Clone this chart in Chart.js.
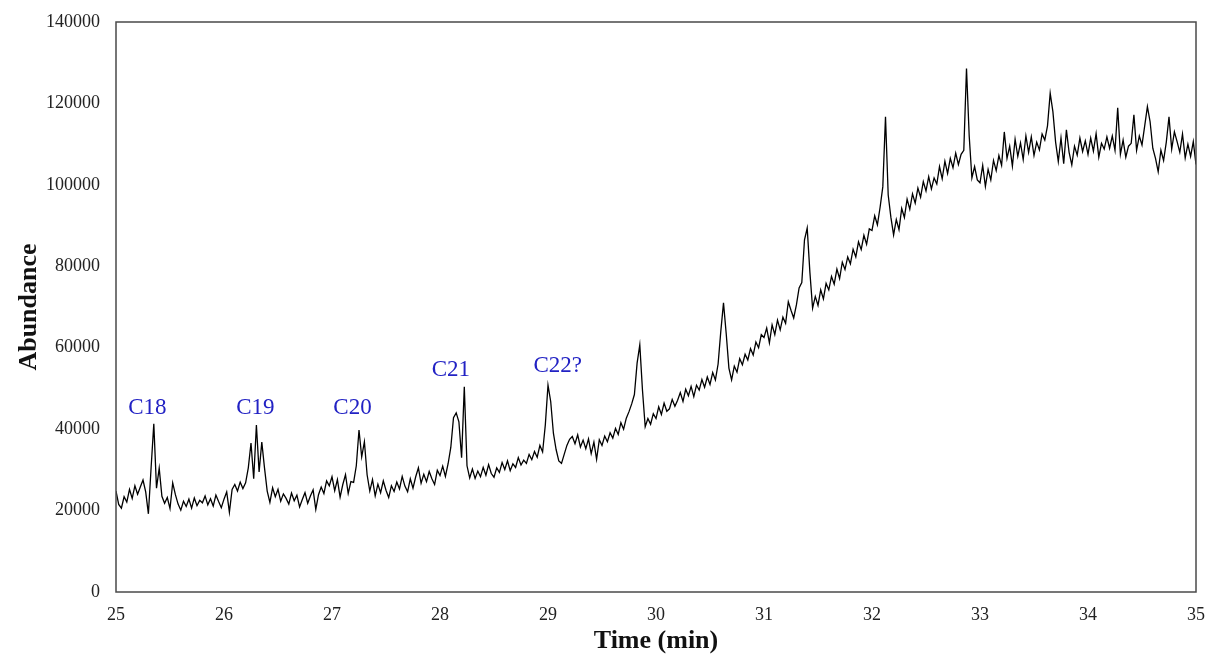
<!DOCTYPE html>
<html>
<head>
<meta charset="utf-8">
<title>Chromatogram 25-35 min</title>
<script src="https://cdn.jsdelivr.net/npm/chart.js@4.4.1/dist/chart.umd.min.js"></script>
<style>
  html, body { margin: 0; padding: 0; background: #ffffff; }
  #wrap { width: 1208px; height: 660px; }
</style>
</head>
<body>
<div id="wrap"><canvas id="gcChart"></canvas></div>
<script>
// Retention time (min), one scan every 0.025 min
const times = [
  25.000, 25.025, 25.050, 25.075, 25.100, 25.125, 25.150, 25.175,
  25.200, 25.225, 25.250, 25.275, 25.300, 25.325, 25.350, 25.375,
  25.400, 25.425, 25.450, 25.475, 25.500, 25.525, 25.550, 25.575,
  25.600, 25.625, 25.650, 25.675, 25.700, 25.725, 25.750, 25.775,
  25.800, 25.825, 25.850, 25.875, 25.900, 25.925, 25.950, 25.975,
  26.000, 26.025, 26.050, 26.075, 26.100, 26.125, 26.150, 26.175,
  26.200, 26.225, 26.250, 26.275, 26.300, 26.325, 26.350, 26.375,
  26.400, 26.425, 26.450, 26.475, 26.500, 26.525, 26.550, 26.575,
  26.600, 26.625, 26.650, 26.675, 26.700, 26.725, 26.750, 26.775,
  26.800, 26.825, 26.850, 26.875, 26.900, 26.925, 26.950, 26.975,
  27.000, 27.025, 27.050, 27.075, 27.100, 27.125, 27.150, 27.175,
  27.200, 27.225, 27.250, 27.275, 27.300, 27.325, 27.350, 27.375,
  27.400, 27.425, 27.450, 27.475, 27.500, 27.525, 27.550, 27.575,
  27.600, 27.625, 27.650, 27.675, 27.700, 27.725, 27.750, 27.775,
  27.800, 27.825, 27.850, 27.875, 27.900, 27.925, 27.950, 27.975,
  28.000, 28.025, 28.050, 28.075, 28.100, 28.125, 28.150, 28.175,
  28.200, 28.225, 28.250, 28.275, 28.300, 28.325, 28.350, 28.375,
  28.400, 28.425, 28.450, 28.475, 28.500, 28.525, 28.550, 28.575,
  28.600, 28.625, 28.650, 28.675, 28.700, 28.725, 28.750, 28.775,
  28.800, 28.825, 28.850, 28.875, 28.900, 28.925, 28.950, 28.975,
  29.000, 29.025, 29.050, 29.075, 29.100, 29.125, 29.150, 29.175,
  29.200, 29.225, 29.250, 29.275, 29.300, 29.325, 29.350, 29.375,
  29.400, 29.425, 29.450, 29.475, 29.500, 29.525, 29.550, 29.575,
  29.600, 29.625, 29.650, 29.675, 29.700, 29.725, 29.750, 29.775,
  29.800, 29.825, 29.850, 29.875, 29.900, 29.925, 29.950, 29.975,
  30.000, 30.025, 30.050, 30.075, 30.100, 30.125, 30.150, 30.175,
  30.200, 30.225, 30.250, 30.275, 30.300, 30.325, 30.350, 30.375,
  30.400, 30.425, 30.450, 30.475, 30.500, 30.525, 30.550, 30.575,
  30.600, 30.625, 30.650, 30.675, 30.700, 30.725, 30.750, 30.775,
  30.800, 30.825, 30.850, 30.875, 30.900, 30.925, 30.950, 30.975,
  31.000, 31.025, 31.050, 31.075, 31.100, 31.125, 31.150, 31.175,
  31.200, 31.225, 31.250, 31.275, 31.300, 31.325, 31.350, 31.375,
  31.400, 31.425, 31.450, 31.475, 31.500, 31.525, 31.550, 31.575,
  31.600, 31.625, 31.650, 31.675, 31.700, 31.725, 31.750, 31.775,
  31.800, 31.825, 31.850, 31.875, 31.900, 31.925, 31.950, 31.975,
  32.000, 32.025, 32.050, 32.075, 32.100, 32.125, 32.150, 32.175,
  32.200, 32.225, 32.250, 32.275, 32.300, 32.325, 32.350, 32.375,
  32.400, 32.425, 32.450, 32.475, 32.500, 32.525, 32.550, 32.575,
  32.600, 32.625, 32.650, 32.675, 32.700, 32.725, 32.750, 32.775,
  32.800, 32.825, 32.850, 32.875, 32.900, 32.925, 32.950, 32.975,
  33.000, 33.025, 33.050, 33.075, 33.100, 33.125, 33.150, 33.175,
  33.200, 33.225, 33.250, 33.275, 33.300, 33.325, 33.350, 33.375,
  33.400, 33.425, 33.450, 33.475, 33.500, 33.525, 33.550, 33.575,
  33.600, 33.625, 33.650, 33.675, 33.700, 33.725, 33.750, 33.775,
  33.800, 33.825, 33.850, 33.875, 33.900, 33.925, 33.950, 33.975,
  34.000, 34.025, 34.050, 34.075, 34.100, 34.125, 34.150, 34.175,
  34.200, 34.225, 34.250, 34.275, 34.300, 34.325, 34.350, 34.375,
  34.400, 34.425, 34.450, 34.475, 34.500, 34.525, 34.550, 34.575,
  34.600, 34.625, 34.650, 34.675, 34.700, 34.725, 34.750, 34.775,
  34.800, 34.825, 34.850, 34.875, 34.900, 34.925, 34.950, 34.975,
  35.000
];

// Abundance at each scan (same row layout as times)
const abundance = [
  24800, 21500, 20600, 23400, 22100, 25200, 23000, 26100,
  24000, 25800, 27500, 24600, 19200, 30500, 41300, 25500,
  30400, 23500, 21800, 23200, 20500, 26800, 23900, 21600,
  20100, 22300, 21000, 22800, 20600, 23100, 21200, 22500,
  21900, 23600, 21400, 22900, 21100, 23800, 22200, 20700,
  22800, 24600, 19600, 25200, 26400, 24800, 27000, 25400,
  26800, 30500, 36600, 27800, 41000, 29500, 36800, 30500,
  24800, 22000, 25600, 23400, 25200, 22300, 24100, 23000,
  21600, 24300, 22400, 23800, 20900, 22700, 24400, 21800,
  23600, 25100, 20300, 23900, 25800, 24200, 27300, 26100,
  28300, 24900, 27600, 23300, 26400, 28800, 24200, 27100,
  26900, 31000, 39800, 33200, 36900, 28800, 24800, 27600,
  23600, 26500, 24400, 27300, 25000, 23200, 26100, 24700,
  27000, 25300, 28400, 26000, 24600, 27800, 25500, 28300,
  30500, 26700, 28900, 27100, 29600, 27800, 26400, 29900,
  28600, 30900, 28400, 31500, 35500, 42800, 44000, 41800,
  33000, 50400, 31000, 28000, 30200, 27900, 29700, 28300,
  30600, 28700, 31300, 29100, 28200, 30500, 29400, 31800,
  30100, 32200, 29800, 31500, 30600, 33000, 31200, 32400,
  31600, 33800, 32500, 34500, 33100, 36000, 34400, 41000,
  50800, 46800, 39000, 35000, 32200, 31600, 33800, 36000,
  37500, 38200, 36400, 38600, 35600, 37300, 35200, 37600,
  34000, 36800, 32600, 37400, 36000, 38300, 36900, 39100,
  37800, 40200, 38700, 41600, 40000, 42700, 44300, 46200,
  48500, 56200, 60700, 49500, 40600, 42600, 41200, 43800,
  42600, 45500, 43600, 46400, 44400, 45000, 47300, 45600,
  47100, 49000, 46800, 49800, 48200, 50500, 48000, 50800,
  49600, 52200, 50300, 52800, 51000, 53900, 52100, 56000,
  64000, 71000, 63500, 55000, 52100, 55500, 54000, 57300,
  55800, 58400, 57000, 59800, 58200, 61400, 60000, 63200,
  62500, 64800, 61200, 65600, 63200, 66800, 64400, 67500,
  66000, 71300, 69200, 67300, 70500, 74700, 76000, 86500,
  89400, 78500, 69700, 72600, 70400, 74200, 72000, 75800,
  74200, 77500, 75600, 79300, 77000, 81000, 79200, 82300,
  80600, 84200, 82300, 86000, 84100, 87600, 85400, 89200,
  88800, 92400, 90200, 94500, 99500, 116700, 97500, 92000,
  87700, 91500, 89000, 94200, 92000, 96500, 94000, 97800,
  95500, 99200, 97000, 100800, 98500, 102000, 99000, 101700,
  100200, 104500, 101500, 105800, 102800, 106500, 104200, 107800,
  105000, 107500, 108500, 128600, 112000, 101700, 104500, 101200,
  100500, 104800, 99600, 103800, 101200, 106000, 103500, 107200,
  104800, 113000, 106500, 109500, 104600, 111200, 107000, 110300,
  106200, 112000, 108000, 111800, 107200, 110500, 108600, 112500,
  111000, 114500, 122500, 118000, 110500, 105700, 111500, 105200,
  113500, 108000, 104900, 109500, 107300, 111500, 108200, 110800,
  107500, 111500, 108300, 112600, 106800, 110200, 108800, 111800,
  109000, 112000, 108500, 118900, 107500, 111000, 106800, 109500,
  110200, 117200, 108500, 112000, 109800, 114500, 119200, 115500,
  109000, 106500, 103200, 108500, 106000, 110500, 116700, 108800,
  113000, 110600, 108000, 112500, 106600, 110000, 107000, 110600,
  105000
];

// peak annotations (label, retention time, abundance level of the text centre)
const peakNames = ['C18', 'C19', 'C20', 'C21', 'C22?'];
const peakLabelTimes = [25.29, 26.29, 27.19, 28.10, 29.09];
const peakLabelLevels = [45200, 45200, 45200, 54500, 55500];

const SERIF = '"Liberation Serif", "Times New Roman", serif';

// frame round the plot + the blue peak names
const frameAndLabels = {
    id: 'frameAndLabels',
    afterDatasetsDraw(chart) {
        const { ctx, chartArea: a, scales } = chart;
        ctx.save();
        ctx.strokeStyle = '#4a4a4a';
        ctx.lineWidth = 1.5;
        ctx.strokeRect(a.left, a.top, a.right - a.left, a.bottom - a.top);

        ctx.fillStyle = '#2222c4';
        ctx.font = '23px ' + SERIF;
        ctx.textAlign = 'center';
        ctx.textBaseline = 'middle';
        peakNames.forEach((name, i) => {
            ctx.fillText(name,
                scales.x.getPixelForValue(peakLabelTimes[i]),
                scales.y.getPixelForValue(peakLabelLevels[i]));
        });
        ctx.restore();
    }
};

const points = times.map((t, i) => ({ x: t, y: abundance[i] }));

new Chart(document.getElementById('gcChart'), {
    type: 'line',
    data: {
        datasets: [{
            data: points,
            borderColor: '#000000',
            borderWidth: 1.3,
            pointRadius: 0,
            tension: 0,
            fill: false
        }]
    },
    options: {
        responsive: true,
        maintainAspectRatio: false,
        animation: false,
        layout: { padding: { top: 22, right: 12, left: 0, bottom: 0 } },
        plugins: {
            legend: { display: false },
            tooltip: { enabled: false }
        },
        scales: {
            x: {
                type: 'linear',
                min: 25,
                max: 35,
                grid: { display: false, drawTicks: false },
                border: { display: false },
                ticks: {
                    stepSize: 1,
                    padding: 12,
                    color: '#222',
                    font: { family: SERIF, size: 18 }
                },
                title: {
                    display: true,
                    text: 'Time (min)',
                    color: '#111',
                    font: { family: SERIF, size: 26, weight: 'bold' },
                    padding: { top: 0, bottom: 3 }
                },
                afterFit: (scale) => {
                    scale.height = 68;
                    scale.paddingLeft = 0;
                    scale.paddingRight = 0;
                }
            },
            y: {
                min: 0,
                max: 140000,
                grid: { display: false, drawTicks: false },
                border: { display: false },
                ticks: {
                    stepSize: 20000,
                    padding: 16,
                    color: '#222',
                    font: { family: SERIF, size: 18 },
                    callback: (v) => String(v)
                },
                title: {
                    display: true,
                    text: 'Abundance',
                    color: '#111',
                    font: { family: SERIF, size: 26, weight: 'bold' },
                    padding: { top: 14, bottom: 0 }
                },
                afterFit: (scale) => {
                    scale.width = 116;
                    scale.paddingTop = 0;
                    scale.paddingBottom = 0;
                }
            }
        }
    },
    plugins: [frameAndLabels]
});
</script>
</body>
</html>
